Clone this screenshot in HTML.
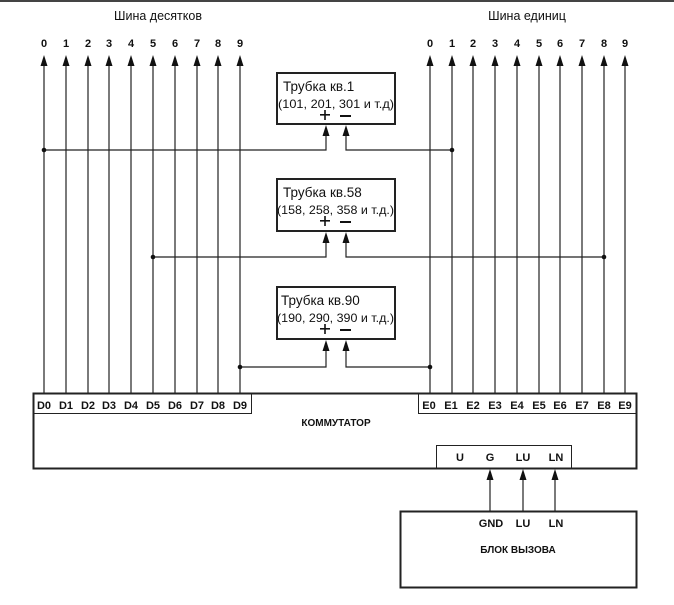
<!DOCTYPE html>
<html><head><meta charset="utf-8"><style>
html,body{margin:0;padding:0;background:#fff}
svg{display:block}
text{font-family:"Liberation Sans",sans-serif;fill:#111}
.b{font-weight:bold;font-size:11px}
.t{font-size:12.5px}
</style></head><body>
<svg width="674" height="605" viewBox="0 0 674 605" xmlns="http://www.w3.org/2000/svg">
<rect x="0" y="0" width="674" height="2" fill="#444"/>
<text x="158" y="20" text-anchor="middle" class="t" fill="#222">Шина десятков</text>
<text x="527" y="20" text-anchor="middle" class="t" fill="#222">Шина единиц</text>
<g stroke="#222" stroke-width="1.2" fill="none">
<line x1="44" y1="393" x2="44" y2="60"/>
<line x1="66" y1="393" x2="66" y2="60"/>
<line x1="88" y1="393" x2="88" y2="60"/>
<line x1="109" y1="393" x2="109" y2="60"/>
<line x1="131" y1="393" x2="131" y2="60"/>
<line x1="153" y1="393" x2="153" y2="60"/>
<line x1="175" y1="393" x2="175" y2="60"/>
<line x1="197" y1="393" x2="197" y2="60"/>
<line x1="218" y1="393" x2="218" y2="60"/>
<line x1="240" y1="393" x2="240" y2="60"/>
<line x1="430" y1="393" x2="430" y2="60"/>
<line x1="452" y1="393" x2="452" y2="60"/>
<line x1="473" y1="393" x2="473" y2="60"/>
<line x1="495" y1="393" x2="495" y2="60"/>
<line x1="517" y1="393" x2="517" y2="60"/>
<line x1="539" y1="393" x2="539" y2="60"/>
<line x1="560" y1="393" x2="560" y2="60"/>
<line x1="582" y1="393" x2="582" y2="60"/>
<line x1="604" y1="393" x2="604" y2="60"/>
<line x1="625" y1="393" x2="625" y2="60"/>
<polyline points="44,150 326,150 326,130"/>
<polyline points="452,150 346,150 346,130"/>
<polyline points="153,257 326,257 326,237"/>
<polyline points="604,257 346,257 346,237"/>
<polyline points="240,367 326,367 326,345"/>
<polyline points="430,367 346,367 346,345"/>
<line x1="490" y1="511" x2="490" y2="474"/>
<line x1="523" y1="511" x2="523" y2="474"/>
<line x1="555" y1="511" x2="555" y2="474"/>
</g>
<g fill="#111">
<path d="M44 55l-3.5 11h7z"/><path d="M66 55l-3.5 11h7z"/><path d="M88 55l-3.5 11h7z"/><path d="M109 55l-3.5 11h7z"/><path d="M131 55l-3.5 11h7z"/><path d="M153 55l-3.5 11h7z"/><path d="M175 55l-3.5 11h7z"/><path d="M197 55l-3.5 11h7z"/><path d="M218 55l-3.5 11h7z"/><path d="M240 55l-3.5 11h7z"/>
<path d="M430 55l-3.5 11h7z"/><path d="M452 55l-3.5 11h7z"/><path d="M473 55l-3.5 11h7z"/><path d="M495 55l-3.5 11h7z"/><path d="M517 55l-3.5 11h7z"/><path d="M539 55l-3.5 11h7z"/><path d="M560 55l-3.5 11h7z"/><path d="M582 55l-3.5 11h7z"/><path d="M604 55l-3.5 11h7z"/><path d="M625 55l-3.5 11h7z"/>
<path d="M326 125l-3.5 11h7z"/><path d="M346 125l-3.5 11h7z"/>
<path d="M326 232l-3.5 11h7z"/><path d="M346 232l-3.5 11h7z"/>
<path d="M326 340l-3.5 11h7z"/><path d="M346 340l-3.5 11h7z"/>
<path d="M490 469l-3.5 11h7z"/><path d="M523 469l-3.5 11h7z"/><path d="M555 469l-3.5 11h7z"/>
<circle cx="44" cy="150" r="2.3"/><circle cx="452" cy="150" r="2.3"/><circle cx="153" cy="257" r="2.3"/><circle cx="604" cy="257" r="2.3"/><circle cx="240" cy="367" r="2.3"/><circle cx="430" cy="367" r="2.3"/></g>
<g class="b" text-anchor="middle">
<text x="44" y="47">0</text><text x="66" y="47">1</text><text x="88" y="47">2</text><text x="109" y="47">3</text><text x="131" y="47">4</text><text x="153" y="47">5</text><text x="175" y="47">6</text><text x="197" y="47">7</text><text x="218" y="47">8</text><text x="240" y="47">9</text>
<text x="430" y="47">0</text><text x="452" y="47">1</text><text x="473" y="47">2</text><text x="495" y="47">3</text><text x="517" y="47">4</text><text x="539" y="47">5</text><text x="560" y="47">6</text><text x="582" y="47">7</text><text x="604" y="47">8</text><text x="625" y="47">9</text>
</g>
<g stroke="#222" stroke-width="2" fill="#fff">
<rect x="277" y="73" width="118" height="51"/>
<rect x="277" y="179" width="118" height="52"/>
<rect x="277" y="287" width="118" height="52"/>
</g>
<g class="t">
<text x="283" y="91" font-size="13.5">Трубка  кв.1</text><text x="278" y="108" font-size="12" textLength="116" lengthAdjust="spacingAndGlyphs">(101, 201, 301 и т.д)</text>
<text x="283" y="197" font-size="13.5">Трубка кв.58</text><text x="277" y="214" font-size="12" textLength="117" lengthAdjust="spacingAndGlyphs">(158, 258, 358 и т.д.)</text>
<text x="281" y="305" font-size="13.5">Трубка кв.90</text><text x="277" y="322" font-size="12" textLength="117" lengthAdjust="spacingAndGlyphs">(190, 290, 390 и т.д.)</text>
</g>
<g fill="#111">
<rect x="320" y="114" width="10" height="1.6"/><rect x="324.2" y="110" width="1.6" height="10"/><rect x="340" y="115" width="11" height="2"/>
<rect x="320" y="220" width="10" height="1.6"/><rect x="324.2" y="216" width="1.6" height="10"/><rect x="340" y="221" width="11" height="2"/>
<rect x="320" y="328" width="10" height="1.6"/><rect x="324.2" y="324" width="1.6" height="10"/><rect x="340" y="329" width="11" height="2"/>
</g>
<g stroke="#222" fill="none">
<rect x="33.5" y="393.5" width="603" height="75" stroke-width="2"/>
<rect x="33.5" y="393.5" width="218" height="20" stroke-width="1"/>
<rect x="418.5" y="393.5" width="218" height="20" stroke-width="1"/>
<rect x="436.5" y="445.5" width="135" height="23" stroke-width="1"/>
<rect x="400.5" y="511.5" width="236" height="76" stroke-width="2"/>
</g>
<g class="b" text-anchor="middle">
<text x="44" y="409">D0</text><text x="66" y="409">D1</text><text x="88" y="409">D2</text><text x="109" y="409">D3</text><text x="131" y="409">D4</text><text x="153" y="409">D5</text><text x="175" y="409">D6</text><text x="197" y="409">D7</text><text x="218" y="409">D8</text><text x="240" y="409">D9</text>
<text x="429" y="409">E0</text><text x="451" y="409">E1</text><text x="473" y="409">E2</text><text x="495" y="409">E3</text><text x="517" y="409">E4</text><text x="539" y="409">E5</text><text x="560" y="409">E6</text><text x="582" y="409">E7</text><text x="604" y="409">E8</text><text x="625" y="409">E9</text>
<text x="336" y="426" font-size="10">КОММУТАТОР</text>
<text x="460" y="461">U</text><text x="490" y="461">G</text><text x="523" y="461">LU</text><text x="556" y="461">LN</text>
<text x="491" y="527">GND</text><text x="523" y="527">LU</text><text x="556" y="527">LN</text>
<text x="518" y="553" font-size="10">БЛОК ВЫЗОВА</text>
</g>
</svg>
</body></html>
